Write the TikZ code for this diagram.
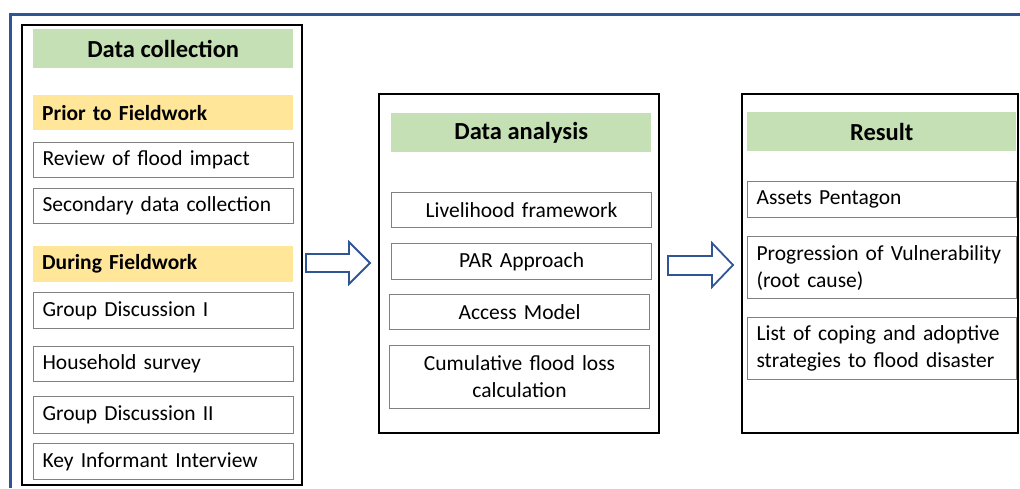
\documentclass[tikz,border=0pt]{standalone}
\usepackage{fontspec}
\setmainfont{Carlito}
\usepackage{xcolor}
\usepackage{tikz}
\usetikzlibrary{arrows.meta}

\definecolor{headgreen}{RGB}{197,224,180}
\definecolor{phaseyellow}{RGB}{255,230,153}
\definecolor{frameblue}{RGB}{47,85,151}
\definecolor{boxgray}{RGB}{128,128,128}

\tikzset{
  panel/.style={draw=black,line width=2.5pt},
  headbar/.style={fill=headgreen,anchor=north west,inner sep=0pt,minimum height=39pt,
    font=\fontsize{24.5}{28}\selectfont\bfseries},
  phasebar/.style={fill=phaseyellow,anchor=north west,inner xsep=9pt,inner ysep=0pt,
    text width=242pt,align=left,font=\fontsize{21.5}{27}\selectfont\bfseries},
  itembox/.style={draw=boxgray,line width=1.1pt,fill=white,anchor=north west,inner xsep=9pt,
    inner ysep=0pt,align=left,font=\fontsize{21.5}{27}\selectfont},
  midbox/.style={itembox,align=center},
  blockarrow/.style={draw=frameblue,line width=1.8pt,fill=white,line join=miter}
}

\begin{document}
\begin{tikzpicture}[x=1pt,y=-1pt]
\useasboundingbox(0,0)rectangle(1020,488);
\draw[frameblue,line width=3pt](10,488)--(10,14)--(1020,14);

% data collection
\draw[panel](22,25)rectangle(302,485);
\node[headbar,minimum width=260pt](collect)at(33,29){Data collection};
\node[phasebar,minimum height=35pt](prior)at(33,95){Prior to Fieldwork};
\node[itembox,text width=242pt,minimum height=35pt](review)at(33,142){Review of flood impact};
\node[itembox,text width=242pt,minimum height=35pt](secondary)at(33,188){Secondary data collection};
\node[phasebar,minimum height=36pt](during)at(33,246){During Fieldwork};
\node[itembox,text width=242pt,minimum height=36pt](groupone)at(33,292){Group Discussion I};
\node[itembox,text width=242pt,minimum height=35pt](household)at(33,346){Household survey};
\node[itembox,text width=242pt,minimum height=37pt](grouptwo)at(33,396){Group Discussion II};
\node[itembox,text width=242pt,minimum height=36pt](keyinf)at(33,443){Key Informant Interview};

% data analysis
\draw[panel](379,94)rectangle(659,433);
\node[headbar,minimum width=260pt](analysis)at(391,113){Data analysis};
\node[midbox,text width=242pt,minimum height=35pt](livelihood)at(391,192){Livelihood framework};
\node[midbox,text width=242pt,minimum height=36pt](par)at(391,243){PAR Approach};
\node[midbox,text width=242pt,minimum height=35pt](access)at(389,294){Access Model};
\node[midbox,text width=242pt,minimum height=63pt](cumloss)at(389,345){Cumulative flood loss\\calculation};

% result
\draw[panel](742,94)rectangle(1018,433);
\node[headbar,minimum width=269pt](result)at(747,112){Result};
\node[itembox,text width=251pt,minimum height=36pt](assets)at(747,181){Assets Pentagon};
\node[itembox,text width=251pt,minimum height=62pt](progress)at(747,236){Progression of Vulnerability\\(root cause)};
\node[itembox,text width=251pt,minimum height=62pt](coping)at(747,317){List of coping and adoptive\\strategies to flood disaster};

% arrows
\draw[blockarrow](306,254)--(349,254)--(349,242)--(370,263)--(349,284)--(349,272)--(306,272)--cycle;
\draw[blockarrow](668,256)--(712,256)--(712,243)--(733,265)--(712,287)--(712,275)--(668,275)--cycle;
\end{tikzpicture}
\end{document}
